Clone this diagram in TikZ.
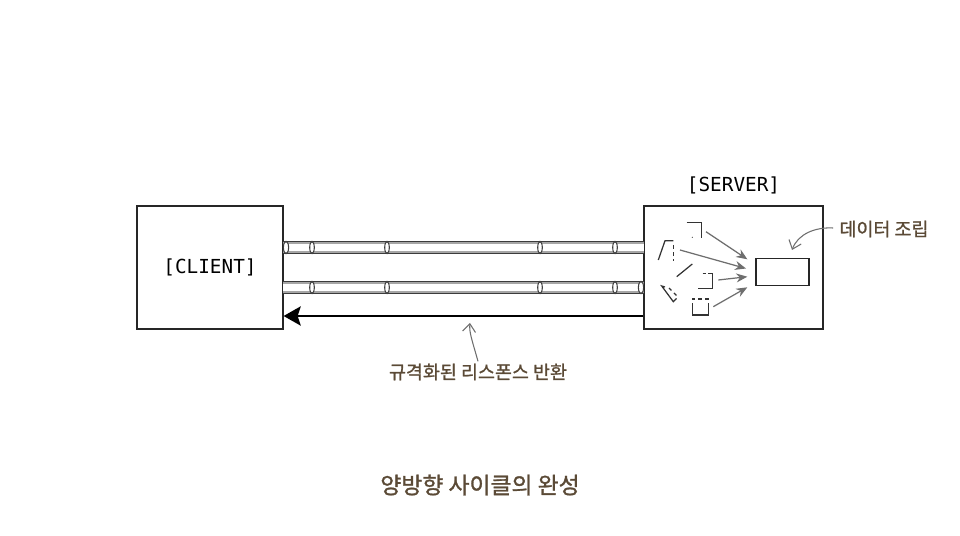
\documentclass[tikz,border=0pt]{standalone}
\usepackage{fontspec}
\setmonofont{DejaVu Sans Mono}
\newfontfamily\kor[FakeBold=1.2]{Noto Sans CJK KR}
\usetikzlibrary{arrows.meta,positioning}
\definecolor{notebrown}{HTML}{5B4A36}
\definecolor{pointgray}{HTML}{6E6E6E}
\definecolor{tubegray}{HTML}{3C3C3C}

\begin{document}
\begin{tikzpicture}[
        x=0.02cm, y=-0.02cm,
        box/.style={draw=black!85, line width=0.7pt, fill=white, inner sep=0pt},
        label/.style={font=\ttfamily\fontsize{11}{13}\selectfont, inner sep=0pt},
        note/.style={font=\kor\fontsize{10.5}{12}\selectfont, text=notebrown, inner sep=0pt},
        pointer/.style={draw=pointgray, line width=0.6pt, -{Straight Barb[length=1.6mm, width=2.6mm]}},
        feed/.style={draw=pointgray, line width=0.7pt, -{Stealth[length=2.2mm, width=1.8mm]}},
        frag/.style={draw=black!80, line width=0.7pt},
        fragdash/.style={frag, dash pattern=on 2pt off 2pt},
    ]
    \useasboundingbox[fill=white] (0,0) rectangle (960,536);

    % === CLIENT AND SERVER ===
    \node[box, minimum width=2.92cm, minimum height=2.46cm] (client) at (210,267.5) {};
    \node[label] at (client.center) {[CLIENT]};

    \node[box, minimum width=3.58cm, minimum height=2.46cm] (server) at (733.5,267.5) {};
    \node[label, above=0.22cm of server] {[SERVER]};

    % === TUBES ===
    \coordinate (t1a) at (283,247.5);
    \coordinate (t1b) at (644,247.5);
    \coordinate (t2a) at (283,287.5);
    \coordinate (t2b) at (644,287.5);
    \foreach \ta/\tb in {t1a/t1b, t2a/t2b} {
        \draw[tubegray, line width=7pt] (\ta) -- (\tb);
        \draw[black!35, line width=6pt] (\ta) -- (\tb);
        \draw[white, line width=4pt] (\ta) -- (\tb);
    }
    \foreach \xx in {312,387,540,615} {
        \draw[tubegray, line width=0.6pt, fill=white] (\xx,247.5) ellipse (2.3 and 6);
        \draw[tubegray, line width=0.6pt, fill=white] (\xx,287.5) ellipse (2.3 and 6);
    }
    \draw[tubegray, line width=0.6pt, fill=white] (286,247.5) ellipse (2.6 and 6.2);
    \draw[tubegray, line width=0.6pt, fill=white] (641,287.5) ellipse (2.6 and 6.2);

    % === RESPONSE ===
    \draw[line width=1.7pt, -{Stealth[length=3.4mm, width=3.8mm, inset=0.6mm]}]
        (server.west |- 0,316) -- (client.east |- 0,316);

    \node[note] (resp) at (478,372) {규격화된 리스폰스 반환};
    \coordinate (resptip) at (470,323);
    \draw[pointer] (resp.north) ++(0,-2) .. controls (472,340) and (469,332) .. (resptip);

    % === DATA ASSEMBLY ===
    \node[box, line width=0.6pt, minimum width=1.06cm, minimum height=0.54cm] (data) at (782.5,272) {};

    \draw[frag] (686.7,222.7) -- (701.7,222.7) -- (701.7,238.3);
    \fill[black!80] (692.3,237.3) circle (0.6);
    \draw[frag] (658.3,260) -- (665,240.7) -- (673.3,240.7);
    \draw[fragdash] (673.3,245) -- (673.3,261);
    \draw[frag] (676.7,276.7) -- (692.3,264);
    \draw[fragdash] (702.5,273.3) -- (705.5,273.3);
    \draw[frag] (708.3,273.3) -- (712.7,273.3) -- (712.7,288.3) -- (698.3,288.3);
    \draw[frag] (665,287) -- (661.7,286) -- (673.3,301.7) -- (676.5,298.5);
    \draw[fragdash] (669,288) -- (677,296);
    \draw[fragdash] (692.3,307) -- (692.3,299) -- (708.3,299) -- (708.3,305);
    \draw[frag] (692.3,307) -- (692.3,315) -- (708.3,315) -- (708.3,305);

    \coordinate (in1) at (747.3,259.3);
    \coordinate (in2) at (746,268.5);
    \coordinate (in3) at (747.3,276.7);
    \coordinate (in4) at (747.3,287.3);
    \draw[feed] (706,231.7) -- (in1);
    \draw[feed] (680,250) -- (in2);
    \draw[feed] (718.3,280) -- (in3);
    \draw[feed] (713.3,306.7) -- (in4);

    \node[note] (asm) at (884,229) {데이터 조립};
    \coordinate (asmtip) at (792,250);
    \draw[pointer] (asm.west) ++(-6,-1) .. controls (815,227) and (798,234) .. (asmtip);

    % === CAPTION ===
    \node[note, font=\kor\fontsize{13}{15}\selectfont] (title) at (480,485) {양방향 사이클의 완성};

    \end{tikzpicture}
\end{document}
